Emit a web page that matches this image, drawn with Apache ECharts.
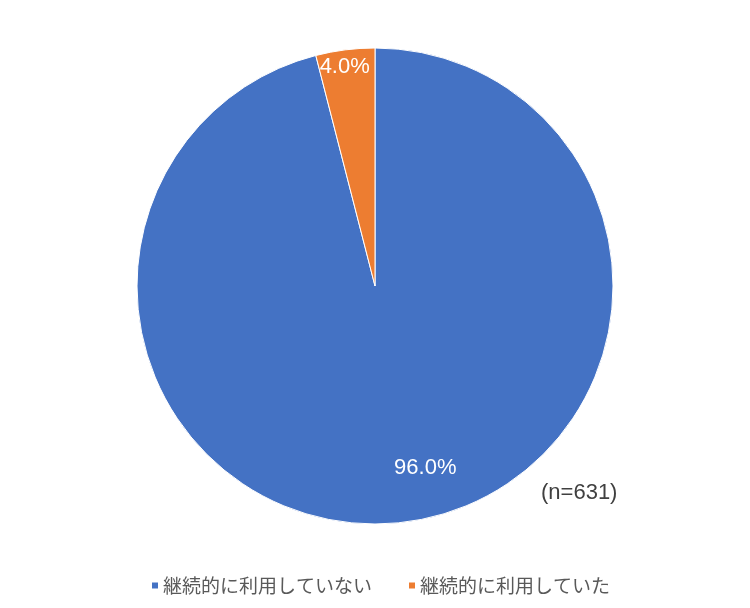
<!DOCTYPE html>
<html>
<head>
<meta charset="utf-8">
<script src="https://cdn.jsdelivr.net/npm/echarts@6/dist/echarts.min.js"></script>
<style>
  html, body { margin: 0; padding: 0; background: #fff; }
  #chart { width: 750px; height: 608px; }
</style>
</head>
<body>
<div id="chart"></div>
<script>
// Survey result: share of respondents who continue using (n=631)
const categories = ['継続的に利用していない', '継続的に利用していた'];
const shares = [96.0, 4.0];
const colors = ['#4472C4', '#ED7D31'];
const sampleNote = '(n=631)';

// Shift each inside label toward its slice's visual best-fit spot
const labelShift = [
  { dx: 35, dy: 61 },
  { dx: -15, dy: -98 }
];

const chart = echarts.init(document.getElementById('chart'), null, { renderer: 'canvas' });

chart.setOption({
  animation: false,
  color: colors,
  title: {
    text: sampleNote,
    left: 541,
    top: 482,
    textStyle: {
      color: '#404040',
      fontSize: 22,
      fontWeight: 'normal',
      fontFamily: 'Liberation Sans, Arial, sans-serif'
    },
    padding: 0
  },
  legend: {
    data: categories,
    top: 571,
    left: 145,
    icon: 'rect',
    itemWidth: 8,
    itemHeight: 8,
    itemGap: 35,
    textStyle: {
      color: '#595959',
      fontSize: 19,
      padding: [0, 0, 0, -1],
      fontFamily: 'Noto Sans CJK JP, sans-serif'
    }
  },
  series: [{
    type: 'pie',
    center: [375, 286],
    radius: 238,
    startAngle: 90,
    clockwise: true,
    avoidLabelOverlap: false,
    itemStyle: { borderColor: '#ffffff', borderWidth: 1 },
    label: {
      show: true,
      position: 'inside',
      color: '#ffffff',
      fontSize: 22,
      fontFamily: 'Liberation Sans, Arial, sans-serif',
      formatter: p => p.value.toFixed(1) + '%'
    },
    labelLine: { show: false },
    labelLayout: p => labelShift[p.dataIndex],
    emphasis: { disabled: true },
    data: categories.map((name, i) => ({ name, value: shares[i] }))
  }]
});
</script>
</body>
</html>
